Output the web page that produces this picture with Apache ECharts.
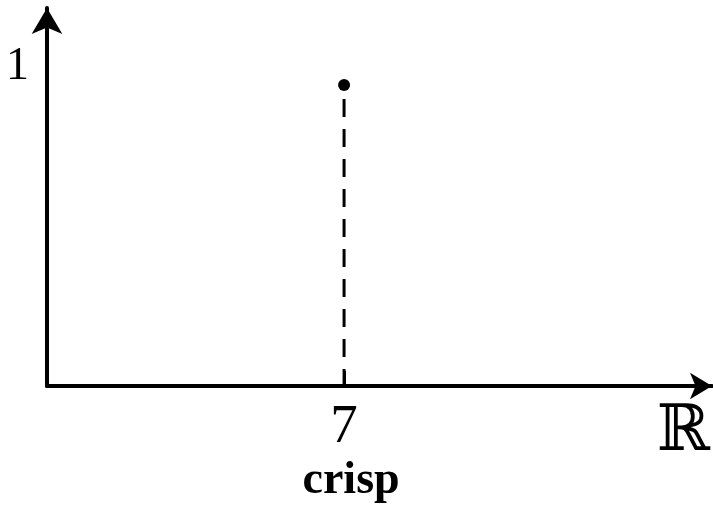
<!DOCTYPE html>
<html>
<head>
<meta charset="utf-8">
<style>
  html, body { margin: 0; padding: 0; background: #fff; }
  #chart { width: 713px; height: 507px; }
</style>
<script src="https://cdn.jsdelivr.net/npm/echarts@6/dist/echarts.min.js"></script>
</head>
<body>
<div id="chart"></div>
<script>
// Crisp value: membership 1 at exactly x = 7
const crispValue = 7;
const membership = 1;
const xTickValues = [7];
const yTickValues = [1];
const xTickCaption = 'crisp';
const xAxisTitle = 'ℝ';

const serif = '"Liberation Serif", "Times New Roman", serif';

const chart = echarts.init(document.getElementById('chart'), null, { renderer: 'canvas' });

chart.setOption({
  animation: false,
  backgroundColor: '#fff',
  grid: { left: 47, right: 1, top: 8, bottom: 121 },
  xAxis: {
    type: 'value',
    min: 0,
    max: 15.67,
    name: xAxisTitle,
    nameLocation: 'end',
    nameGap: -2,
    nameTextStyle: {
      fontFamily: '"DejaVu Serif", serif',
      fontSize: 64,
      color: '#000',
      align: 'right',
      verticalAlign: 'top',
      lineHeight: 66,
      padding: [14, 0, 0, 0]
    },
    axisLine: {
      show: true,
      symbol: ['none', 'arrow'],
      symbolSize: [20, 22],
      lineStyle: { color: '#000', width: 4 }
    },
    axisTick: {
      show: true,
      inside: true,
      length: 15,
      customValues: xTickValues,
      lineStyle: { color: '#000', width: 3 }
    },
    axisLabel: {
      show: true,
      margin: 14,
      customValues: xTickValues,
      formatter: (v) => '{n|' + v + '}\n{c|' + xTickCaption + '}',
      rich: {
        n: { fontFamily: serif, fontSize: 55, lineHeight: 56, color: '#000' },
        c: { fontFamily: serif, fontSize: 46, fontWeight: 'bold', lineHeight: 50, color: '#000', padding: [0, 0, 0, 14] }
      }
    },
    splitLine: { show: false }
  },
  yAxis: {
    type: 'value',
    min: 0,
    max: 1.256,
    axisLine: {
      show: true,
      symbol: ['none', 'arrow'],
      symbolSize: [23, 26],
      lineStyle: { color: '#000', width: 4 }
    },
    axisTick: { show: false },
    axisLabel: {
      show: true,
      margin: 18,
      customValues: yTickValues,
      fontFamily: serif,
      fontSize: 46,
      color: '#000',
      verticalAlign: 'bottom',
      lineHeight: 36
    },
    splitLine: { show: false }
  },
  series: [
    {
      type: 'line',
      data: [[crispValue, membership], [crispValue, 0]],
      showSymbol: false,
      symbol: 'none',
      lineStyle: { color: '#000', width: 3, type: [18, 12], dashOffset: 16 },
      z: 2
    },
    {
      type: 'scatter',
      data: [[crispValue, membership]],
      symbol: 'circle',
      symbolSize: 12,
      itemStyle: { color: '#000', opacity: 1 },
      z: 3
    }
  ]
});
</script>
</body>
</html>
